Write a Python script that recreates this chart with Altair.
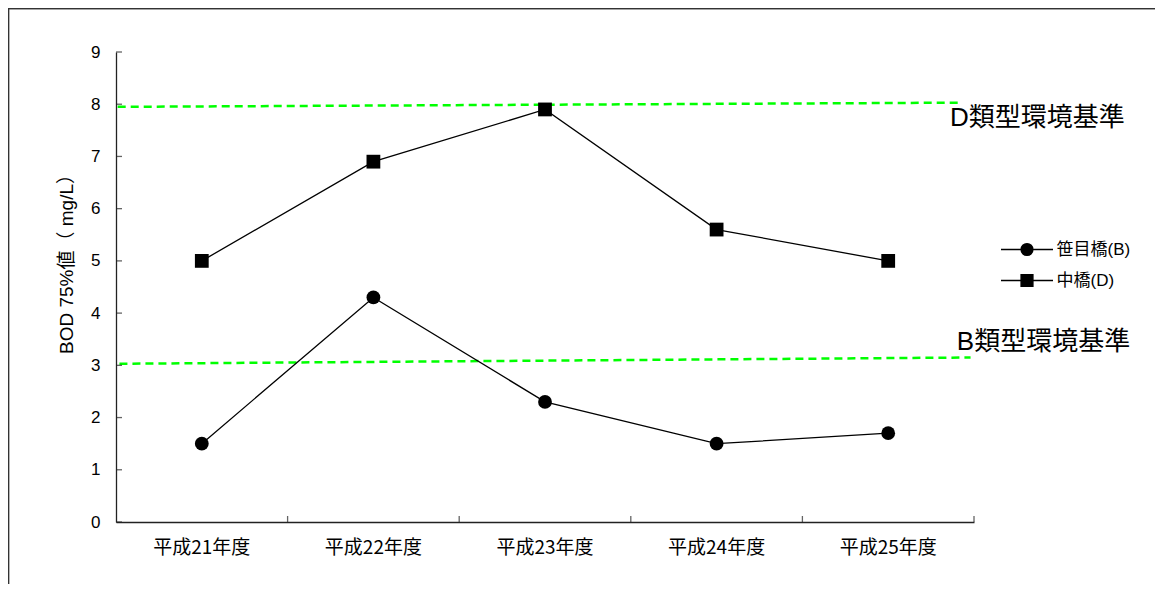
import altair as alt
import pandas as pd

FONT = "Noto Sans CJK JP"
LFONT = "Liberation Sans, Noto Sans CJK JP"

years = ["平成21年度", "平成22年度", "平成23年度", "平成24年度", "平成25年度"]
series = ["笹目橋(B)", "中橋(D)"]
sasame = [1.5, 4.3, 2.3, 1.5, 1.7]
naka = [5.0, 6.9, 7.9, 5.6, 5.0]
y_ticks = [0, 1, 2, 3, 4, 5, 6, 7, 8, 9]
x_bounds = [1, 2, 3, 4, 5]

# environmental standard lines (x in category units 0..5)
std_labels = ["D類型環境基準", "B類型環境基準"]
std_x0 = [0.01, 0.02]
std_x1 = [4.93, 4.98]
std_y0 = [7.95, 3.03]
std_y1 = [8.03, 3.15]
std_label_x = [4.86, 4.90]
std_label_y = [7.74, 3.45]

W, H = 858, 470

rows = []
for s, vals in zip(series, [sasame, naka]):
    for yr, v in zip(years, vals):
        rows.append({"year": yr, "series": s, "value": v})
df = pd.DataFrame(rows)

std_df = pd.DataFrame({"label": std_labels, "x0": std_x0, "x1": std_x1,
                       "y0": std_y0, "y1": std_y1, "lx": std_label_x, "ly": std_label_y})
ytick_df = pd.DataFrame({"v": y_ticks})
xtick_df = pd.DataFrame({"b": x_bounds})

yscale = alt.Scale(domain=[0, 9], nice=False, zero=True)
xband = alt.Scale(type="band", domain=years, paddingInner=0, paddingOuter=0)
xq = alt.Scale(domain=[0, 5], nice=False, zero=False)

lines = alt.Chart(df).mark_line(color="black", strokeWidth=1.3).encode(
    x=alt.X("year:N", scale=xband, sort=years,
            axis=alt.Axis(orient="bottom", title=None, labelAngle=0, ticks=False, tickSize=0,
                          labelPadding=16, labelFontSize=19, labelFont=FONT, labelColor="black",
                          domainColor="#222", domainWidth=1.3)),
    y=alt.Y("value:Q", scale=yscale,
            axis=alt.Axis(orient="left", values=y_ticks, ticks=False, tickSize=0, labelPadding=16,
                          labelFontSize=17, labelFont=LFONT, labelColor="black",
                          domainColor="#222", domainWidth=1.3, grid=False,
                          title="BOD 75%値（ mg/L）", titleFont=LFONT, titleFontSize=19,
                          titleFontWeight="normal", titleColor="black", titleAngle=-90,
                          titleX=-50, titleY=207, titleAlign="center", titleBaseline="middle")),
    detail="series:N",
)

points = alt.Chart(df).mark_point(filled=True, opacity=1, color="black", size=190).encode(
    x=alt.X("year:N", scale=xband, sort=years, axis=None),
    y=alt.Y("value:Q", scale=yscale, axis=None),
    shape=alt.Shape("series:N", scale=alt.Scale(domain=series, range=["circle", "square"]),
                    legend=None),
)

# inward tick marks
yticks = alt.Chart(ytick_df).mark_tick(orient="horizontal", color="#222", thickness=1.3, size=6).encode(
    y=alt.Y("v:Q", scale=yscale, axis=None),
    x=alt.value(3),
)
xticks = alt.Chart(xtick_df).mark_tick(orient="vertical", color="#222", thickness=1.3, size=6).encode(
    x=alt.X("b:Q", scale=xq, axis=None),
    y=alt.value(H - 3),
)

legend_layer = alt.Chart(df).transform_filter("false").mark_point(
    filled=False, opacity=1, color="black", stroke="black", fill="black", strokeWidth=1.5
).encode(
    shape=alt.Shape("series:N", scale=alt.Scale(
        domain=series,
        range=["M-4,0H4M0.9,0A0.9,0.9,0,1,1,-0.9,0A0.9,0.9,0,1,1,0.9,0Z",
               "M-4,0H4M-0.9,-0.9H0.9V0.9H-0.9Z"]),
        legend=alt.Legend(title=None, orient="none", legendX=902.5, legendY=189, padding=0,
                          symbolSize=169, symbolStrokeWidth=1.5, symbolOpacity=1,
                          labelFontSize=17, labelFont=LFONT,
                          labelColor="black", labelOffset=21, rowPadding=12)),
)

std_lines = alt.Chart(std_df).mark_rule(color="#00ff00", strokeWidth=2.5, strokeDash=[8, 5]).encode(
    x=alt.X("x0:Q", scale=xq, axis=None),
    x2="x1:Q",
    y=alt.Y("y0:Q", scale=yscale, axis=None),
    y2="y1:Q",
)

std_text = alt.Chart(std_df).mark_text(align="left", baseline="middle", fontSize=26,
                                       font=LFONT, color="black").encode(
    x=alt.X("lx:Q", scale=xq, axis=None),
    y=alt.Y("ly:Q", scale=yscale, axis=None),
    text="label:N",
)

frame = alt.Chart(std_df).mark_rect(filled=False, stroke="#333", strokeWidth=1.2).encode(
    x=alt.value(-107.4), x2=alt.value(1100), y=alt.value(-43.4), y2=alt.value(700)
)

chart = alt.layer(frame, std_lines, lines, points, yticks, xticks, legend_layer, std_text).resolve_scale(
    x="independent", y="independent", shape="independent"
).properties(
    width=W, height=H,
    autosize=alt.AutoSizeParams(type="none"),
    padding={"left": 108, "top": 44, "right": 181, "bottom": 62},
    background="white",
).configure_view(stroke=None)

chart.save("out.html", embed_options={"renderer": "svg", "actions": False})
